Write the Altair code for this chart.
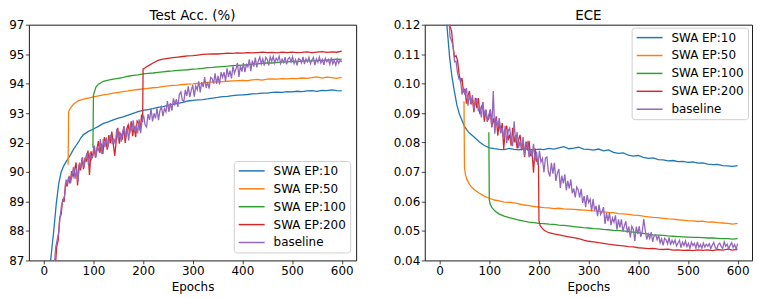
import altair as alt
import pandas as pd

SERIES = ["SWA EP:10", "SWA EP:50", "SWA EP:100", "SWA EP:200", "baseline"]
COLORS = ["#1f77b4", "#ff7f0e", "#2ca02c", "#d62728", "#9467bd"]
X_TICKS = [0, 100, 200, 300, 400, 500, 600]
ACC_TICKS = [87, 88, 89, 90, 92, 93, 94, 95, 97]
ECE_TICKS = [0.04, 0.05, 0.06, 0.07, 0.08, 0.09, 0.10, 0.11, 0.12]

# ---------------- Test Acc. (%) ----------------
ACC_BLUE_EP = [10, 15, 20, 25, 30, 35, 40, 45, 50, 55, 60, 65, 70, 75, 80] + list(range(90, 601, 10))
ACC_BLUE = [86.3, 87.2, 88.0, 88.9, 89.6, 90.0, 90.4, 90.7, 90.95, 91.25, 91.55, 91.8, 92.02, 92.17, 92.27,
            92.38, 92.46, 92.55, 92.65, 92.7, 92.77, 92.83, 92.87, 92.93, 92.99,
            93.05, 93.09, 93.12, 93.15, 93.19, 93.22, 93.26, 93.3, 93.33, 93.36,
            93.41, 93.43, 93.45, 93.46, 93.48, 93.51, 93.53, 93.56, 93.57, 93.59,
            93.61, 93.62, 93.63, 93.65, 93.66, 93.68, 93.68, 93.7, 93.71, 93.7,
            93.73, 93.72, 93.74, 93.73, 93.75, 93.76, 93.74, 93.77, 93.76, 93.79,
            93.76, 93.75]

ACC_ORANGE_EP = [49, 50, 52, 55, 60, 65, 70] + list(range(80, 601, 10))
ACC_ORANGE = [90.5, 93.05, 93.12, 93.2, 93.3, 93.37, 93.42,
              93.47, 93.51, 93.55, 93.58, 93.62, 93.64, 93.68, 93.7, 93.73, 93.75,
              93.78, 93.8, 93.82, 93.84, 93.86, 93.87, 93.9, 93.92, 93.94, 93.95,
              93.97, 93.98, 93.99, 94.01, 94.02, 94.04, 94.05, 94.06, 94.07, 94.08,
              94.09, 94.1, 94.11, 94.1, 94.13, 94.14, 94.12, 94.15, 94.16, 94.15,
              94.17, 94.16, 94.18, 94.17, 94.19, 94.18, 94.2, 94.23, 94.19, 94.22,
              94.2, 94.18, 94.21]

ACC_GREEN_EP = [99, 100, 102, 105, 110, 115] + list(range(120, 601, 10))
ACC_GREEN = [91.65, 93.6, 93.72, 93.88, 93.98, 94.03,
             94.08, 94.12, 94.15, 94.18, 94.21, 94.25, 94.28, 94.3, 94.33, 94.35,
             94.36, 94.38, 94.4, 94.42, 94.43, 94.45, 94.46, 94.47, 94.49, 94.5,
             94.52, 94.54, 94.55, 94.57, 94.58, 94.59, 94.61, 94.62, 94.63, 94.64,
             94.66, 94.67, 94.69, 94.7, 94.7, 94.72, 94.73, 94.74, 94.75, 94.75,
             94.76, 94.77, 94.77, 94.78, 94.79, 94.8, 94.81, 94.83, 94.82]

ACC_RED_EP = list(range(20, 198, 3)) + [199, 200, 203, 207, 212] + list(range(220, 601, 10))
ACC_RED = [86.48, 86.74, 87.45, 87.68, 88.44, 88.56, 89.06, 89.02, 89.65, 89.51,
           89.83, 89.61, 90.05, 89.85, 90.11, 90.65, 89.54, 90.52, 90.11, 90.93,
           90.2, 90.9, 90.76, 91.46, 89.9, 91.4, 90.95, 91.73, 90.97, 91.56,
           92.05, 91.29, 91.93, 91.22, 92.18, 92.03, 91.52, 92.25, 91.95, 92.37,
           91.88, 91.1, 92.1, 92.5, 91.93, 92.32, 92.1, 92.54, 91.98, 92.46,
           92.6, 92.3, 92.72, 92.22, 92.56, 92.18, 92.73, 92.66, 92.41, 92.95,
           92.7, 94.5, 94.52, 94.57, 94.62,
           94.7, 94.79, 94.83, 94.86, 94.88, 94.9, 94.92, 94.94, 94.95, 94.97,
           94.99, 95.0, 95.02, 95.01, 95.04, 95.06, 95.05, 95.08, 95.07, 95.1,
           95.08, 95.11, 95.13, 95.1, 95.12, 95.09, 95.13, 95.11, 95.14, 95.1,
           95.12, 95.15, 95.11, 95.14, 95.17, 95.12, 95.15, 95.13, 95.2]

ACC_PURPLE_EP = list(range(15, 601, 3))
ACC_PURPLE = [85.6, 86.0, 86.8, 87.45, 87.7, 87.95, 88.5, 88.9, 89.05, 89.2,
              89.74, 89.61, 89.87, 89.63, 89.91, 90.35, 89.77, 90.27, 89.68, 90.65,
              90.27, 91.02, 90.32, 90.92, 91.3, 90.5, 91.3, 90.88, 91.13, 91.8,
              91.0, 91.67, 91.45, 92.12, 91.22, 92.12, 91.68, 92.18, 91.68, 92.08,
              92.27, 91.9, 92.14, 91.87, 92.47, 92.1, 92.37, 92.03, 92.35, 92.55,
              92.13, 92.48, 92.07, 92.6, 92.4, 92.75, 92.36, 92.59, 92.31, 92.79,
              92.32, 92.75, 92.92, 92.6, 92.53, 92.97, 92.77, 93.15, 92.72, 92.99,
              92.82, 93.16, 92.76, 93.09, 93.21, 92.9, 93.15, 93.04, 93.41, 93.04,
              93.34, 93.08, 93.5, 93.3, 93.47, 93.21, 93.63, 93.72, 93.44, 93.39,
              93.79, 93.58, 93.91, 93.54, 93.78, 93.95, 93.56, 93.92, 93.79, 94.08,
              93.7, 94.05, 93.88, 94.22, 93.85, 94.05, 93.83, 94.21, 94.17, 94.0,
              94.35, 93.99, 94.26, 93.97, 94.39, 94.21, 94.39, 94.09, 94.52, 94.23,
              94.44, 94.18, 94.59, 94.35, 94.5, 94.7, 94.23, 94.61, 94.41, 94.7,
              94.39, 94.65, 94.57, 94.82, 94.42, 94.78, 94.58, 94.88, 94.55, 94.77,
              94.9, 94.67, 94.84, 94.61, 94.89, 94.82, 94.62, 94.9, 94.76, 94.92,
              94.7, 94.86, 94.78, 94.93, 94.68, 94.83, 94.72, 94.9, 94.65, 94.84,
              94.89, 94.74, 94.91, 94.68, 94.81, 94.62, 94.85, 94.82, 94.7, 94.91,
              94.66, 94.84, 94.74, 94.89, 94.68, 94.8, 94.89, 94.63, 94.84, 94.72,
              94.9, 94.7, 94.82, 94.64, 94.86, 94.74, 94.82, 94.65, 94.88, 94.67,
              94.79, 94.63, 94.83, 94.69, 94.8, 94.73]

# ---------------- ECE ----------------
ECE_BLUE_EP = [10, 15, 20, 25, 30, 35, 40, 45, 50, 55, 60] + list(range(70, 601, 10))
ECE_BLUE = [0.128, 0.119, 0.109, 0.102, 0.097, 0.0925, 0.0895, 0.0875, 0.0855, 0.0842, 0.0832,
            0.0818, 0.0802, 0.079, 0.0782, 0.0779, 0.0777, 0.0776, 0.078, 0.0777, 0.0775,
            0.0779, 0.0777, 0.0775, 0.0778, 0.0776, 0.078, 0.0778, 0.0782, 0.0786, 0.0779,
            0.0781, 0.0784, 0.0778, 0.0777, 0.0774, 0.0778, 0.0772, 0.0775, 0.0767, 0.0763,
            0.0765, 0.0757, 0.0754, 0.0756, 0.075, 0.0746, 0.0748, 0.0742, 0.0741, 0.0738,
            0.0739, 0.0735, 0.0736, 0.0733, 0.0734, 0.073, 0.0731, 0.0727, 0.0725, 0.0726,
            0.0722, 0.0721, 0.0719, 0.0722]

ECE_ORANGE_EP = [49, 50, 52, 55, 60, 65] + list(range(70, 601, 10))
ECE_ORANGE = [0.094, 0.0715, 0.069, 0.0675, 0.0658, 0.0648,
              0.064, 0.0628, 0.0618, 0.0611, 0.0605, 0.0602, 0.0598, 0.0597, 0.0595, 0.0592,
              0.0588, 0.0586, 0.0583, 0.0581, 0.0579, 0.0578, 0.0576, 0.0577, 0.0575, 0.0574,
              0.0573, 0.0572, 0.0571, 0.057, 0.0568, 0.0567, 0.0565, 0.0563, 0.0562, 0.0559,
              0.0558, 0.0556, 0.0554, 0.0553, 0.055, 0.0548, 0.0546, 0.0545, 0.0543, 0.0541,
              0.054, 0.0538, 0.0537, 0.0535, 0.0534, 0.0532, 0.0533, 0.053, 0.0531, 0.0528,
              0.0527, 0.0526, 0.0523, 0.0526]

ECE_GREEN_EP = [99, 100, 102, 105, 110, 115] + list(range(120, 601, 10))
ECE_GREEN = [0.0835, 0.0605, 0.059, 0.058, 0.057, 0.0563,
             0.0557, 0.055, 0.0545, 0.0541, 0.0537, 0.0533, 0.053, 0.0528, 0.0526, 0.0525,
             0.0523, 0.0522, 0.052, 0.0519, 0.0517, 0.0515, 0.0513, 0.0511, 0.051, 0.0508,
             0.0507, 0.0505, 0.0504, 0.0502, 0.0501, 0.05, 0.0498, 0.0496, 0.0494, 0.0492,
             0.0489, 0.0487, 0.0486, 0.0485, 0.0483, 0.0482, 0.0481, 0.048, 0.0479, 0.0478,
             0.0478, 0.0477, 0.0476, 0.0476, 0.0475, 0.0474, 0.0474, 0.0472, 0.0474]

ECE_RED_EP = list(range(15, 196, 3)) + [199, 200, 202, 205, 210, 215] + list(range(220, 601, 10))
ECE_RED = [0.1311, 0.1224, 0.1194, 0.1178, 0.1125, 0.109, 0.1095, 0.1079, 0.1034, 0.1006,
           0.1019, 0.097, 0.0982, 0.0932, 0.0958, 0.0975, 0.0929, 0.0949, 0.0903, 0.0952,
           0.0917, 0.0951, 0.0896, 0.0921, 0.0932, 0.0871, 0.0911, 0.0875, 0.0881, 0.0913,
           0.0851, 0.0882, 0.0858, 0.0889, 0.0823, 0.0869, 0.0834, 0.0866, 0.0778, 0.0841,
           0.0857, 0.0808, 0.0827, 0.0789, 0.085, 0.0801, 0.0825, 0.078, 0.0809, 0.0826,
           0.0773, 0.0805, 0.0751, 0.0803, 0.0773, 0.0806, 0.0754, 0.0772, 0.0698, 0.078,
           0.0738,
           0.0728, 0.0535, 0.052, 0.0512, 0.0503, 0.0498,
           0.0494, 0.049, 0.0487, 0.0483, 0.048, 0.0477, 0.0474, 0.0469, 0.0465, 0.0463,
           0.046, 0.0458, 0.0455, 0.0453, 0.0451, 0.0449, 0.0447, 0.0446, 0.0443, 0.0442,
           0.044, 0.0441, 0.0438, 0.0437, 0.0438, 0.0435, 0.0436, 0.0434, 0.0435, 0.0433,
           0.0436, 0.0434, 0.0436, 0.0433, 0.0437, 0.0435, 0.0438, 0.0435, 0.0438]

ECE_PURPLE_EP = list(range(15, 601, 3))
ECE_PURPLE = [0.1274, 0.1235, 0.1158, 0.1145, 0.1128, 0.1074, 0.1076, 0.1036, 0.1016, 0.1017,
              0.0963, 0.0986, 0.0961, 0.0985, 0.0925, 0.0965, 0.0934, 0.0961, 0.0912, 0.0937,
              0.095, 0.0906, 0.0921, 0.0885, 0.0937, 0.0892, 0.0912, 0.087, 0.0895, 0.091,
              0.0854, 0.0975, 0.083, 0.0881, 0.0851, 0.0883, 0.0831, 0.085, 0.0812, 0.0857,
              0.0798, 0.0839, 0.0849, 0.0806, 0.0788, 0.0872, 0.08, 0.0836, 0.0781, 0.0806,
              0.0778, 0.0819, 0.0756, 0.0794, 0.0801, 0.075, 0.0777, 0.0752, 0.0796, 0.0736,
              0.0769, 0.0723, 0.0772, 0.0734, 0.0746, 0.0699, 0.0748, 0.0751, 0.0701, 0.0685,
              0.0731, 0.0694, 0.0731, 0.067, 0.0696, 0.071, 0.0646, 0.0688, 0.0661, 0.0692,
              0.0638, 0.067, 0.0644, 0.0675, 0.0628, 0.0644, 0.0614, 0.0649, 0.0639, 0.0613,
              0.0643, 0.0595, 0.0618, 0.0581, 0.0622, 0.0596, 0.0608, 0.0567, 0.0608, 0.0569,
              0.0585, 0.055, 0.0589, 0.0556, 0.0565, 0.0581, 0.0524, 0.0561, 0.0533, 0.0561,
              0.052, 0.0544, 0.053, 0.0553, 0.0504, 0.0539, 0.0512, 0.0539, 0.0498, 0.0517,
              0.0533, 0.0494, 0.0515, 0.0478, 0.0516, 0.0505, 0.0466, 0.0515, 0.0489, 0.0516,
              0.048, 0.0498, 0.054, 0.0503, 0.0471, 0.049, 0.0475, 0.0496, 0.0463, 0.0485,
              0.0487, 0.047, 0.0486, 0.0459, 0.0473, 0.0451, 0.0475, 0.047, 0.0456, 0.0478,
              0.0452, 0.0468, 0.0457, 0.0469, 0.0449, 0.0459, 0.0468, 0.0443, 0.0462, 0.0451,
              0.0466, 0.0447, 0.0458, 0.0441, 0.0462, 0.045, 0.0458, 0.0442, 0.0463, 0.0444,
              0.0454, 0.0441, 0.0459, 0.0445, 0.0455, 0.0448, 0.0457, 0.044, 0.0452, 0.0461,
              0.0444, 0.0438, 0.0454, 0.0459, 0.0447, 0.0441, 0.0463, 0.0448, 0.0455, 0.0439,
              0.0451, 0.046, 0.0444, 0.0454, 0.0438, 0.0457]

W, H = 329, 237


def make_df(parts):
    rows = []
    for name, eps, vals in parts:
        assert len(eps) == len(vals), (name, len(eps), len(vals))
        for i, (e, v) in enumerate(zip(eps, vals)):
            rows.append({"series": name, "epoch": e, "value": v, "i": i})
    return pd.DataFrame(rows)


acc_df = make_df([
    (SERIES[0], ACC_BLUE_EP, ACC_BLUE),
    (SERIES[1], ACC_ORANGE_EP, ACC_ORANGE),
    (SERIES[2], ACC_GREEN_EP, ACC_GREEN),
    (SERIES[3], ACC_RED_EP, ACC_RED),
    (SERIES[4], ACC_PURPLE_EP, ACC_PURPLE),
])
ece_df = make_df([
    (SERIES[0], ECE_BLUE_EP, ECE_BLUE),
    (SERIES[1], ECE_ORANGE_EP, ECE_ORANGE),
    (SERIES[2], ECE_GREEN_EP, ECE_GREEN),
    (SERIES[3], ECE_RED_EP, ECE_RED),
    (SERIES[4], ECE_PURPLE_EP, ECE_PURPLE),
])


def panel(df, title, y_scale, y_axis, lx, ly):
    color = alt.Color(
        "series:N",
        scale=alt.Scale(domain=SERIES, range=COLORS),
        legend=alt.Legend(title=None, orient="none", legendX=lx, legendY=ly),
    )
    layers = []
    for s in SERIES:
        layers.append(
            alt.Chart(df[df.series == s])
            .mark_line(clip=True, strokeWidth=1.3)
            .encode(
                x=alt.X("epoch:Q", scale=alt.Scale(domain=[-30, 629], nice=False, zero=False),
                        axis=alt.Axis(values=X_TICKS, title="Epochs")),
                y=alt.Y("value:Q", scale=y_scale, axis=y_axis),
                color=color,
                order="i:Q",
            )
        )
    return alt.layer(*layers).properties(width=W, height=H, title=title)


acc_range = [H - H * k / 8 for k in range(9)]
left = panel(
    acc_df, "Test Acc. (%)",
    alt.Scale(domain=ACC_TICKS, range=acc_range, nice=False, zero=False),
    alt.Axis(values=ACC_TICKS, title=None, format="d"),
    206, 137,
)
right = panel(
    ece_df, "ECE",
    alt.Scale(domain=[0.04, 0.12], nice=False, zero=False),
    alt.Axis(values=ECE_TICKS, title=None, format=".2f"),
    208, 3,
)

chart = (
    alt.hconcat(left, right, spacing=35)
    .resolve_scale(color="independent")
    .properties(padding=0)
    .configure(font="DejaVu Sans", background="white")
    .configure_view(stroke="#1a1a1a", strokeWidth=1)
    .configure_axis(grid=False, domain=False, ticks=True, tickSize=3.5, tickWidth=0.8,
                    tickColor="#1a1a1a", labelFontSize=12, labelColor="#000000",
                    labelPadding=1.5, titleFontSize=12, titleFontWeight="normal",
                    titleColor="#000000", titlePadding=5,
                    labelFont="DejaVu Sans", titleFont="DejaVu Sans")
    .configure_title(fontSize=13.5, fontWeight="normal", font="DejaVu Sans", color="#000000",
                     offset=-4, anchor="middle")
    .configure_legend(fillColor="white", strokeColor="#d0d0d0", cornerRadius=3, padding=4,
                      rowPadding=6, labelFontSize=12, labelColor="#000000", labelFont="DejaVu Sans",
                      symbolType="M-1,0H4.2", symbolSize=100, symbolStrokeWidth=1.5,
                      labelOffset=24)
)

chart.save("out.html", embed_options={"renderer": "svg", "actions": False})
